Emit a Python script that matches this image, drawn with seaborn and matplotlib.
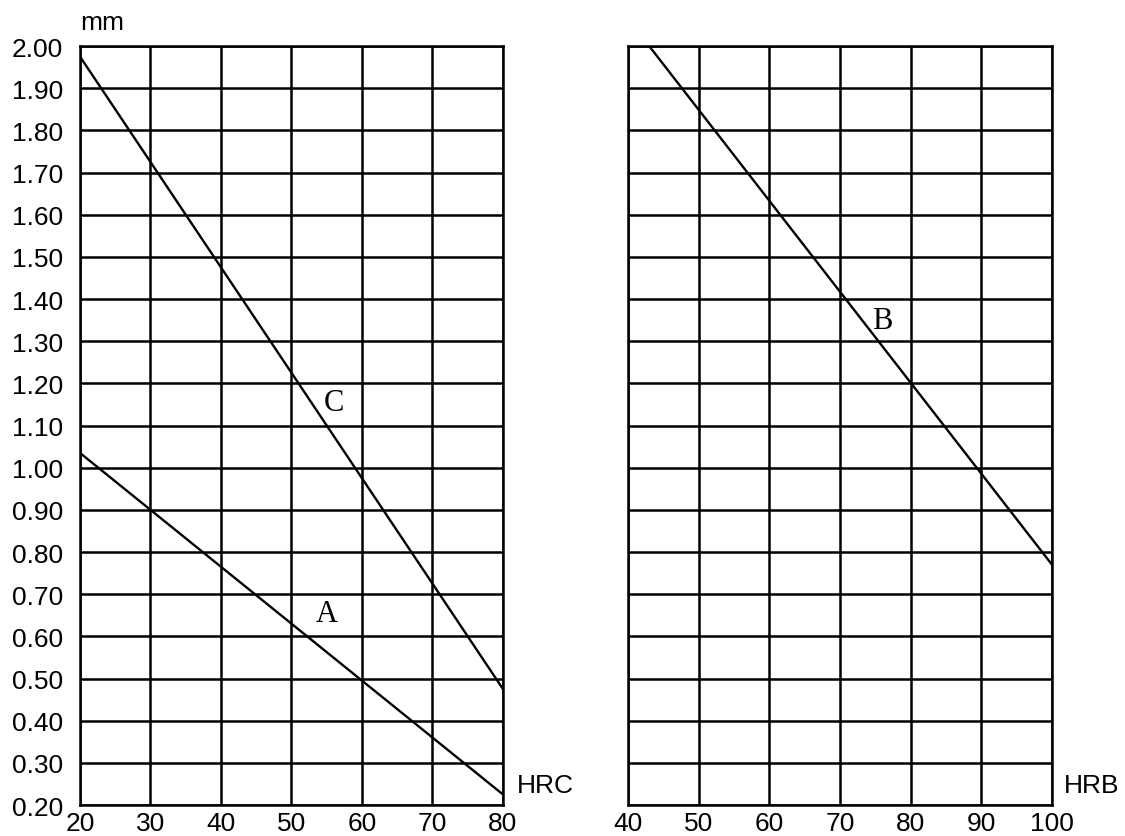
import numpy as np
import pandas as pd
import seaborn as sns
import matplotlib.pyplot as plt

# left panel: HRC scale
hrc = [20, 80]
curve_a = [1.035, 0.225]
curve_c = [1.975, 0.475]
hrc_ticks = [20, 30, 40, 50, 60, 70, 80]

# right panel: HRB scale
hrb = [43, 100]
curve_b = [2.00, 0.77]
hrb_ticks = [40, 50, 60, 70, 80, 90, 100]

mm_ticks = np.round(np.arange(0.2, 2.001, 0.1), 2)

df_left = pd.DataFrame({"HRC": hrc * 2, "mm": curve_a + curve_c,
                        "curve": ["A", "A", "C", "C"]})
df_right = pd.DataFrame({"HRB": hrb, "mm": curve_b, "curve": ["B", "B"]})

sns.set_theme(style="white")
plt.rcParams["font.family"] = ["Liberation Sans", "DejaVu Sans"]
plt.rcParams["text.color"] = "black"

fig = plt.figure(figsize=(11.25, 8.37), dpi=100)
ax1 = fig.add_axes([0.0711, 0.037, 0.376, 0.9068])
ax2 = fig.add_axes([0.5582, 0.037, 0.3769, 0.9068])

sns.lineplot(data=df_left, x="HRC", y="mm", hue="curve", palette=["black", "black"],
             legend=False, lw=1.7, ax=ax1)
sns.lineplot(data=df_right, x="HRB", y="mm", hue="curve", palette=["black"],
             legend=False, lw=1.7, ax=ax2)

for ax, xt in [(ax1, hrc_ticks), (ax2, hrb_ticks)]:
    ax.set_xlim(xt[0], xt[-1])
    ax.set_ylim(0.2, 2.0)
    ax.set_xticks(xt)
    ax.set_yticks(mm_ticks)
    ax.grid(True, color="black", lw=1.8)
    ax.set_axisbelow(False)
    for s in ax.spines.values():
        s.set_color("black")
        s.set_linewidth(1.8)
        s.set_visible(True)
    ax.tick_params(length=0, labelsize=19, colors="black")
    ax.tick_params(axis="x", pad=4)
    ax.set_xlabel("")
    ax.set_ylabel("")

ax1.set_yticklabels([f"{v:.2f}" for v in mm_ticks])
ax1.tick_params(axis="y", pad=12)
ax2.set_yticklabels([])

serif = ["Liberation Serif", "DejaVu Serif"]
ax1.text(56, 1.155, "C", family=serif, fontsize=22, color="black", ha="center", va="center")
ax1.text(55, 0.655, "A", family=serif, fontsize=22, color="black", ha="center", va="center")
ax2.text(76, 1.35, "B", family=serif, fontsize=22, color="black", ha="center", va="center")

fig.text(80 / 1125, 1 - 30 / 837, "mm", fontsize=19, color="black", ha="left", va="baseline")
fig.text(517 / 1125, 1 - 786 / 837, "HRC", fontsize=19, color="black", ha="left", va="center")
fig.text(1064 / 1125, 1 - 786 / 837, "HRB", fontsize=19, color="black", ha="left", va="center")

fig.savefig("out.png", dpi=100, facecolor="white")
